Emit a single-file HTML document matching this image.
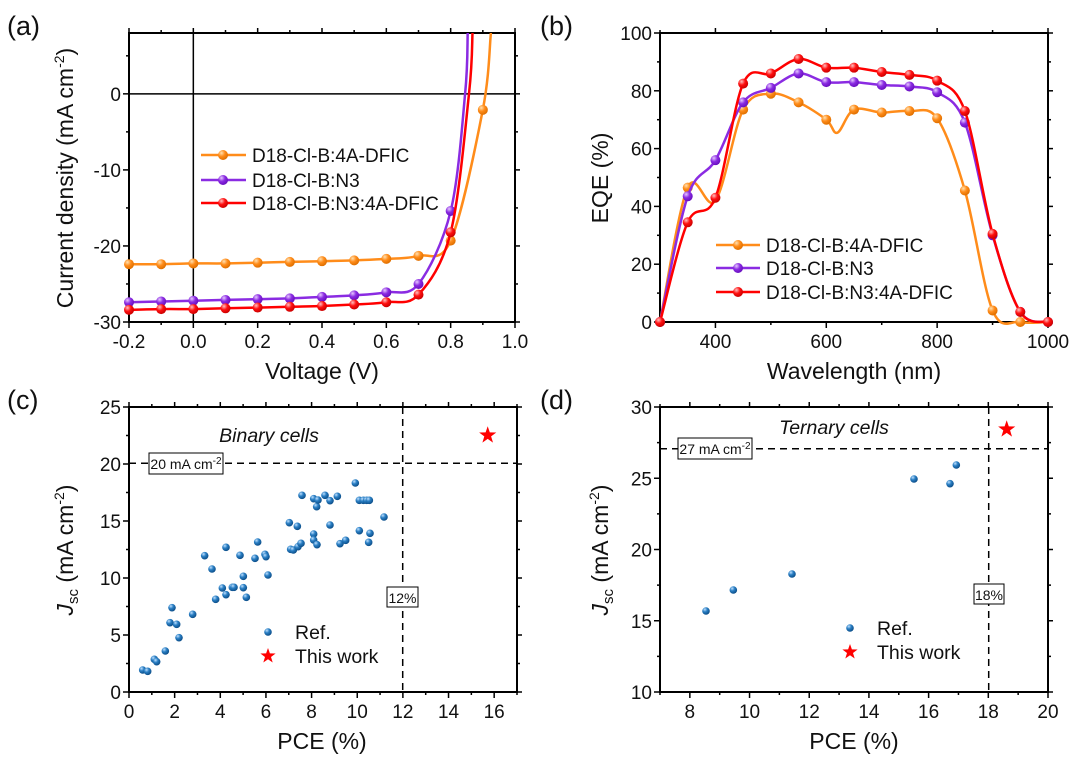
<!DOCTYPE html>
<html><head><meta charset="utf-8"><style>
body{margin:0;background:#fff}
svg{display:block}
text{font-family:"Liberation Sans",Arial,sans-serif;fill:#111}
</style></head><body>
<svg id="s" width="1080" height="765" viewBox="0 0 1080 765" xmlns="http://www.w3.org/2000/svg">
<defs>
<radialGradient id="gb" cx="0.35" cy="0.3" r="0.7"><stop offset="0" stop-color="#bfe0ff"/><stop offset="0.45" stop-color="#2a7fc4"/><stop offset="1" stop-color="#0d4f8a"/></radialGradient>
<radialGradient id="go" cx="0.35" cy="0.3" r="0.7"><stop offset="0" stop-color="#ffe0b0"/><stop offset="0.5" stop-color="#ff8c1a"/><stop offset="1" stop-color="#e07000"/></radialGradient>
<radialGradient id="gp" cx="0.35" cy="0.3" r="0.7"><stop offset="0" stop-color="#e6c8ff"/><stop offset="0.5" stop-color="#8a2be2"/><stop offset="1" stop-color="#6a10c0"/></radialGradient>
<radialGradient id="gr" cx="0.35" cy="0.3" r="0.7"><stop offset="0" stop-color="#ffc0c0"/><stop offset="0.5" stop-color="#ff1010"/><stop offset="1" stop-color="#cc0000"/></radialGradient>
</defs>
<g id="g"></g>
</svg>
<script>
var G=document.getElementById('g'),out='';
function add(s){out+=s;}
function T(x,y,t,o){o=o||{};add('<text x="'+x+'" y="'+y+'" font-size="'+(o.fs||19)+'" text-anchor="'+(o.a||'middle')+'"'+(o.tr?' transform="'+o.tr+'"':'')+(o.it?' font-style="italic"':'')+'>'+t+'</text>');}
function L(x1,y1,x2,y2,w,d){add('<line x1="'+x1+'" y1="'+y1+'" x2="'+x2+'" y2="'+y2+'" stroke="#000" stroke-width="'+(w||1.5)+'"'+(d?' stroke-dasharray="'+d+'"':'')+'/>');}
function axes(X0,X1,Y0,Y1,xmin,xmax,ymin,ymax,xt,xm,yt,ym,xf,yf){
 var fx=function(v){return X0+(v-xmin)/(xmax-xmin)*(X1-X0)};
 var fy=function(v){return Y1-(v-ymin)/(ymax-ymin)*(Y1-Y0)};
 add('<rect x="'+X0+'" y="'+Y0+'" width="'+(X1-X0)+'" height="'+(Y1-Y0)+'" fill="none" stroke="#000" stroke-width="2"/>');
 xm.forEach(function(v){var x=fx(v);L(x,Y1,x,Y1+3,1.5);L(x,Y0,x,Y0-3,1.5);});
 xt.forEach(function(v){var x=fx(v);L(x,Y1,x,Y1+6,1.5);L(x,Y0,x,Y0-5,1.5);T(x,Y1+26,xf(v));});
 ym.forEach(function(v){var y=fy(v);L(X0,y,X0-3,y,1.5);L(X1,y,X1+3,y,1.5);});
 yt.forEach(function(v){var y=fy(v);L(X0,y,X0-6,y,1.5);L(X1,y,X1+5,y,1.5);T(X0-8,y+7,yf(v),{a:'end'});});
 return [fx,fy];
}
function cr(pts){var d='M'+pts[0][0]+','+pts[0][1];for(var i=0;i<pts.length-1;i++){var p0=pts[i-1]||pts[i],p1=pts[i],p2=pts[i+1],p3=pts[i+2]||p2;
 d+=' C'+(p1[0]+(p2[0]-p0[0])/6).toFixed(1)+','+(p1[1]+(p2[1]-p0[1])/6).toFixed(1)+' '+(p2[0]-(p3[0]-p1[0])/6).toFixed(1)+','+(p2[1]-(p3[1]-p1[1])/6).toFixed(1)+' '+p2[0].toFixed(1)+','+p2[1].toFixed(1);}return d;}
function M(x,y,g,r){add('<circle cx="'+x+'" cy="'+y+'" r="'+(r||5)+'" fill="url(#'+g+')"/>');}
function star(cx,cy,R){var p=[];for(var i=0;i<10;i++){var r=i%2?R*0.4:R,a=-Math.PI/2+i*Math.PI/5;p.push((cx+r*Math.cos(a)).toFixed(1)+','+(cy+r*Math.sin(a)).toFixed(1));}add('<polygon points="'+p.join(' ')+'" fill="#ff0000"/>');}
var fmt1=function(v){return v.toFixed(1)},fi=function(v){return ''+v};
function rng(a,b,s){var r=[];for(var v=a;v<=b+1e-9;v+=s)r.push(+v.toFixed(4));return r;}
var col={o:'#ff8c1a',p:'#8a2be2',r:'#ff0000'};

/* (a) */
var A=axes(129,515,33,322,-0.2,1.0,-30,8,rng(-0.2,1.0,0.2),rng(-0.1,0.9,0.2),[-30,-20,-10,0],[-25,-15,-5,5],fmt1,fi);
L(A[0](0),33,A[0](0),322,1.5);L(129,A[1](0),515,A[1](0),1.5);
var V=rng(-0.2,0.8,0.1);
var ja={o:[-22.4,-22.4,-22.3,-22.3,-22.2,-22.1,-22.0,-21.9,-21.7,-21.3,-19.3],p:[-27.4,-27.3,-27.2,-27.1,-27.0,-26.9,-26.7,-26.5,-26.1,-25.0,-15.4],r:[-28.4,-28.3,-28.3,-28.2,-28.1,-28.0,-27.9,-27.7,-27.4,-26.4,-18.2]};
var ext={o:[[0.9,-2.1],[0.925,8]],p:[[0.845,0],[0.853,8]],r:[[0.857,0],[0.868,8]]};
['o','p','r'].forEach(function(k){var pts=V.map(function(v,i){return [A[0](v),A[1](ja[k][i])]});ext[k].forEach(function(e){pts.push([A[0](e[0]),A[1](e[1])])});
 add('<path d="'+cr(pts)+'" fill="none" stroke="'+col[k]+'" stroke-width="2.5"/>');
 var g={o:'go',p:'gp',r:'gr'}[k];pts.forEach(function(p,i){if(i<11||(k=='o'&&i==11))M(p[0],p[1],g);});});
[['o','D18-Cl-B:4A-DFIC',155],['p','D18-Cl-B:N3',180],['r','D18-Cl-B:N3:4A-DFIC',203]].forEach(function(l){add('<line x1="201" y1="'+l[2]+'" x2="246" y2="'+l[2]+'" stroke="'+col[l[0]]+'" stroke-width="2.5"/>');M(223,l[2],{o:'go',p:'gp',r:'gr'}[l[0]]);T(252,l[2]+7,l[1],{a:'start',fs:19});});
T(322,379,'Voltage (V)',{fs:23});
T(0,0,'Current density (mA cm<tspan dy="-9" font-size="14">-2</tspan><tspan dy="9">)</tspan>',{fs:23,tr:'translate(73,178) rotate(-90)'});
T(7,35,'(a)',{a:'start',fs:27});

/* (b) */
var B=axes(660,1048,33,322,300,1000,0,100,[400,600,800,1000],[300,500,700,900],rng(0,100,20),rng(10,90,20),fi,fi);
var W=rng(300,1000,50);
var eq={o:[0,46.5,42,73.5,79,76,70,73.5,72.5,73,70.5,45.5,4,0,0],p:[0,43.5,56,76,81,86,83,83,82,81.5,79.5,69,30,3.5,0],r:[0,34.5,43,82.5,86,91,88,88,86.5,85.5,83.5,73,30.5,3.5,0]};
['o','p','r'].forEach(function(k){var pts=W.map(function(w,i){return [B[0](w),B[1](eq[k][i])]});
 var pp=pts.slice();if(k=='o'){pp.splice(7,0,[B[0](620),B[1](65.5)]);}
 add('<path d="'+cr(pp)+'" fill="none" stroke="'+col[k]+'" stroke-width="2.5"/>');
 var g={o:'go',p:'gp',r:'gr'}[k];pts.forEach(function(p,i){if(!(k=='o'&&i==2))M(p[0],p[1],g);});});
[['o','D18-Cl-B:4A-DFIC',245],['p','D18-Cl-B:N3',268],['r','D18-Cl-B:N3:4A-DFIC',292]].forEach(function(l){add('<line x1="716" y1="'+l[2]+'" x2="760" y2="'+l[2]+'" stroke="'+col[l[0]]+'" stroke-width="2.5"/>');M(738,l[2],{o:'go',p:'gp',r:'gr'}[l[0]]);T(766,l[2]+7,l[1],{a:'start',fs:19});});
T(854,379,'Wavelength (nm)',{fs:23});
T(0,0,'EQE (%)',{fs:23,tr:'translate(608,178) rotate(-90)'});
T(540,35,'(b)',{a:'start',fs:27});

/* (c) */
axes(129,517,407,692,0,17,0,25,rng(0,16,2),rng(1,17,2),rng(0,25,5),rng(2.5,22.5,5),fi,fi);
L(129,463.3,517,463.3,1.5,'7,5');L(402.7,407,402.7,692,1.5,'7,5');
var cp=[[128,810],[143,814],[163,778],[170,785],[196,753],[210,668],[216,623],[230,673],[237,713],[278,643],[314,467],[336,507],[347,598],[367,564],[378,442],[378,584],[397,562],[402,562],[420,466],[430,529],[430,563],[439,592],[465,475],[473,426],[495,463],[498,470],[504,525],[568,368],[572,448],[580,450],[592,379],[594,440],[603,430],[606,286],[641,296],[641,402],[641,420],[651,434],[650,320],[654,300],[675,286],[690,302],[690,375],[712,289],[720,431],[737,421],[766,249],[778,301],[778,392],[790,301],[800,301],[808,301],[806,427],[810,400],[852,351]];
cp.forEach(function(p){M(100+p[0]/3,400+p[1]/3,'gb',3.8);});
star(487.7,435.3,9);
add('<rect x="149" y="453" width="74" height="21" fill="#fff" stroke="#000" stroke-width="1"/>');
T(186,469,'20 mA cm<tspan dy="-5" font-size="10">-2</tspan>',{fs:14});
add('<rect x="387" y="587" width="31" height="20" fill="#fff" stroke="#000" stroke-width="1"/>');
T(402.5,603,'12%',{fs:14});
T(269,442,'Binary cells',{fs:19.5,it:1});
M(268,632,'gb',3.8);star(268,656,8);
T(295,639,'Ref.',{a:'start',fs:19.5});T(295,663,'This work',{a:'start',fs:19.5});
T(322,749,'PCE (%)',{fs:23});
T(0,0,'<tspan font-style="italic">J</tspan><tspan dy="5" font-size="15">sc</tspan><tspan dy="-5"> (mA cm</tspan><tspan dy="-9" font-size="14">-2</tspan><tspan dy="9">)</tspan>',{fs:23,tr:'translate(73,550) rotate(-90)'});
T(7,409,'(c)',{a:'start',fs:27});

/* (d) */
axes(660,1048,407,692,7,20,10,30,rng(8,20,2),rng(7,19,2),rng(10,30,5),rng(12.5,27.5,5),fi,fi);
L(660,448.7,1048,448.7,1.5,'7,5');L(988.7,407,988.7,692,1.5,'7,5');
[[198,633],[280,570],[456,522],[822,237],[930,251],[949,195]].forEach(function(p){M(640+p[0]/3,400+p[1]/3,'gb',3.8);});
star(1006.7,429.3,9);
add('<rect x="678" y="438" width="74" height="21" fill="#fff" stroke="#000" stroke-width="1"/>');
T(715,454,'27 mA cm<tspan dy="-5" font-size="10">-2</tspan>',{fs:14});
add('<rect x="974" y="584" width="30" height="20" fill="#fff" stroke="#000" stroke-width="1"/>');
T(989,600,'18%',{fs:14});
T(834,434,'Ternary cells',{fs:19.5,it:1});
M(850,628,'gb',3.8);star(850,652,8);
T(877,635,'Ref.',{a:'start',fs:19.5});T(877,659,'This work',{a:'start',fs:19.5});
T(854,749,'PCE (%)',{fs:23});
T(0,0,'<tspan font-style="italic">J</tspan><tspan dy="5" font-size="15">sc</tspan><tspan dy="-5"> (mA cm</tspan><tspan dy="-9" font-size="14">-2</tspan><tspan dy="9">)</tspan>',{fs:23,tr:'translate(608,550) rotate(-90)'});
T(540,409,'(d)',{a:'start',fs:27});
G.innerHTML=out;
</script>
</body></html>
